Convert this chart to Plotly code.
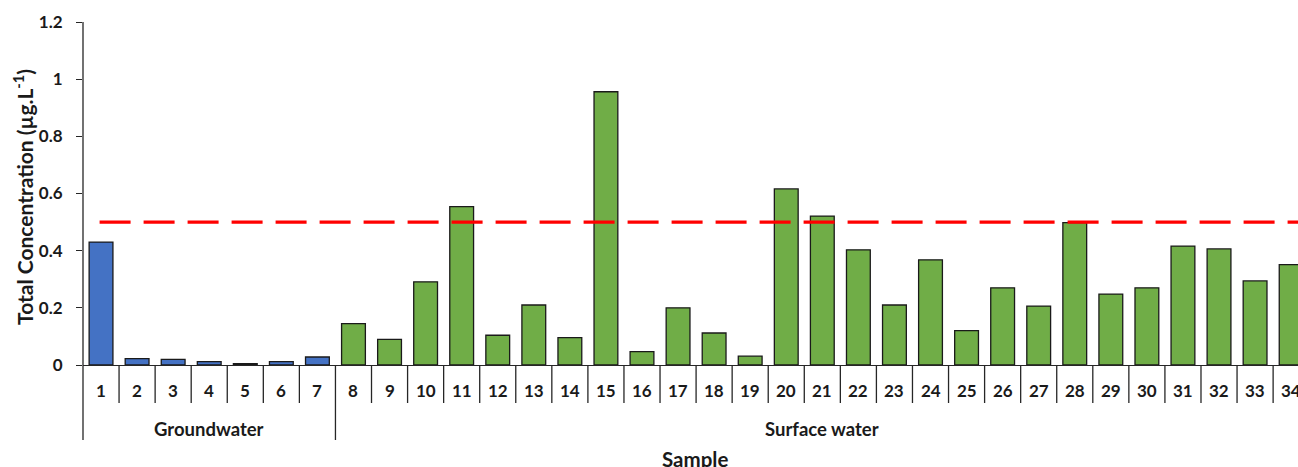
import plotly.graph_objects as go

samples = list(range(1, 35))
groundwater_samples = [1, 2, 3, 4, 5, 6, 7]
groundwater_values = [0.43, 0.022, 0.02, 0.012, 0.005, 0.012, 0.028]
surface_samples = list(range(8, 35))
surface_values = [0.145, 0.09, 0.291, 0.554, 0.104, 0.21, 0.096, 0.956, 0.047,
                  0.2, 0.112, 0.031, 0.616, 0.521, 0.403, 0.21, 0.368, 0.12,
                  0.27, 0.206, 0.498, 0.248, 0.27, 0.416, 0.406, 0.294, 0.351]
threshold_x = [0.96, 34.5]
threshold_y = [0.5, 0.5]
y_ticks = [0, 0.2, 0.4, 0.6, 0.8, 1.0, 1.2]
y_ticktext = ["0", "0.2", "0.4", "0.6", "0.8", "1", "1.2"]
groups = ["Groundwater", "Surface water"]
group_bounds = [(0.5, 7.5), (7.5, 34.5)]

FONT = "Lato"
W, H = 1298, 467
L, R, T, B = 83, 0, 22, 102
plot_h = H - T - B
plot_w = W - L - R

def py(px_below):
    return -px_below / plot_h

fig = go.Figure()
fig.add_trace(go.Bar(x=groundwater_samples, y=groundwater_values,
                     marker=dict(color="#4472C4", line=dict(color="#1a1a1a", width=1.3)),
                     width=0.66, showlegend=False))
fig.add_trace(go.Bar(x=surface_samples, y=surface_values,
                     marker=dict(color="#70AD47", line=dict(color="#1a1a1a", width=1.3)),
                     width=0.66, showlegend=False))
fig.add_trace(go.Scatter(x=threshold_x, y=threshold_y, mode="lines",
                         line=dict(color="#FF0000", width=3.2, dash="31px,13px"),
                         showlegend=False))

shapes = []
shapes.append(dict(type="line", xref="paper", yref="paper", x0=0, x1=0, y0=py(75), y1=1,
                   line=dict(color="#262626", width=1.3)))
for k in samples[:-1]:
    xb = k + 0.5
    if xb == 7.5:
        continue
    shapes.append(dict(type="line", xref="x", yref="paper", x0=xb, x1=xb, y0=0, y1=py(38),
                       line=dict(color="#262626", width=1.3)))
shapes.append(dict(type="line", xref="x", yref="paper", x0=7.5, x1=7.5, y0=0, y1=py(75),
                   line=dict(color="#262626", width=1.3)))

annotations = []
for s in samples:
    annotations.append(dict(x=s, y=py(26), xref="x", yref="paper", text=str(s),
                            showarrow=False, xanchor="center", yanchor="middle",
                            font=dict(family=FONT, size=17, color="#1a1a1a", weight="bold")))
for g, (a, b) in zip(groups, group_bounds):
    annotations.append(dict(x=(a + b) / 2, y=py(64), xref="x", yref="paper", text=g,
                            showarrow=False, xanchor="center", yanchor="middle",
                            font=dict(family=FONT, size=18.5, color="#1a1a1a", weight="bold")))
annotations.append(dict(x=(695 - L) / plot_w, y=py(94), xref="paper", yref="paper",
                        text="Sample", showarrow=False, xanchor="center", yanchor="middle",
                        font=dict(family=FONT, size=20.5, color="#1a1a1a", weight="bold")))
annotations.append(dict(x=-(L - 23) / plot_w, y=0.49, xref="paper", yref="paper",
                        text="Total Concentration (µg.L<sup>-1</sup>)", textangle=-90,
                        showarrow=False, xanchor="center", yanchor="middle",
                        font=dict(family=FONT, size=21, color="#1a1a1a", weight="bold")))

fig.update_layout(
    width=W, height=H, margin=dict(l=L, r=R, t=T, b=B),
    paper_bgcolor="white", plot_bgcolor="white",
    shapes=shapes, annotations=annotations,
    xaxis=dict(range=[0.5, 34.19], showticklabels=False, ticks="", showgrid=False,
               zeroline=False, showline=True, linecolor="#262626", linewidth=1.3),
    yaxis=dict(range=[0, 1.2], tickvals=y_ticks, ticktext=y_ticktext, ticks="outside",
               ticklen=6, tickwidth=1.3, tickcolor="#262626", showgrid=False, zeroline=False,
               showline=False, ticklabelstandoff=10, automargin=False,
               tickfont=dict(family=FONT, size=17, color="#1a1a1a", weight="bold")),
)

fig.write_html("out.html", config={"displayModeBar": False},
               post_script="document.body.style.margin='0';document.body.style.overflow='hidden';")
